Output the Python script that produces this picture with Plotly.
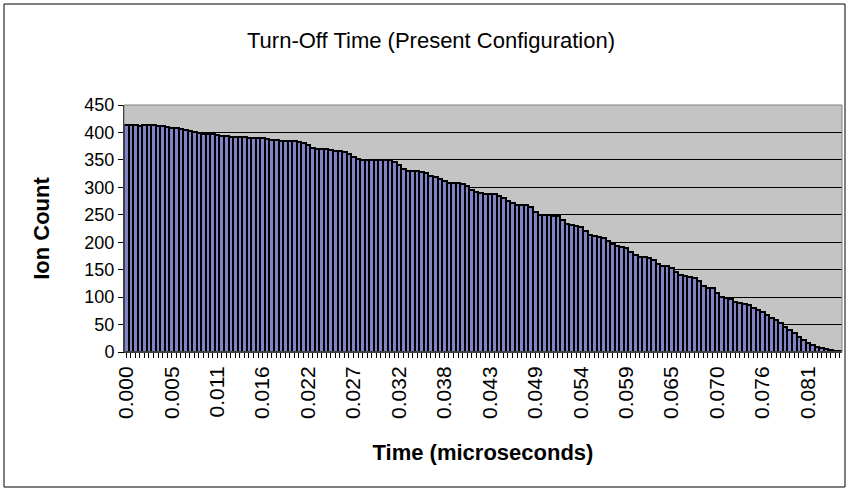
import plotly.graph_objects as go

# Ion counts per time bin
counts = [
    413, 413, 413, 412, 413, 414, 413, 411, 411, 410,
    409, 408, 407, 405, 402, 401, 399, 398, 398, 397,
    395, 394, 393, 392, 392, 391, 392, 390, 390, 389,
    389, 388, 387, 386, 385, 385, 384, 384, 383, 381,
    378, 372, 370, 369, 369, 368, 367, 366, 365, 361,
    356, 351, 350, 350, 350, 349, 349, 350, 349, 347,
    340, 334, 330, 329, 330, 328, 327, 321, 318, 316,
    311, 307, 307, 308, 306, 302, 296, 291, 289, 288,
    288, 287, 284, 280, 276, 271, 268, 267, 268, 265,
    255, 250, 249, 249, 248, 247, 240, 234, 231, 230,
    228, 220, 214, 211, 209, 207, 203, 197, 193, 191,
    190, 183, 176, 173, 173, 172, 168, 160, 157, 157,
    153, 146, 140, 138, 137, 135, 130, 121, 117, 116,
    108, 101, 98, 96, 92, 90, 88, 85, 80, 76,
    73, 68, 62, 58, 53, 45, 40, 35, 28, 22,
    17, 12, 9, 7, 5, 3, 2, 1,
]
time_step = 0.00054  # microseconds per bin
label_every = 10
times = [i * time_step for i in range(len(counts))]
tick_labels = ["%.3f" % t if i % label_every == 0 else "" for i, t in enumerate(times)]
positions = list(range(len(counts)))

W, H = 849, 491
L, R, T, B = 124, 7, 105, 139
pw, ph = W - L - R, H - T - B

fig = go.Figure(go.Bar(
    x=positions, y=counts,
    marker=dict(color="#8282C6", line=dict(color="black", width=2)),
    hovertext=["%.5f" % t for t in times],
))

font = "Liberation Sans, Arial, sans-serif"
fig.update_layout(
    width=W, height=H,
    margin=dict(l=L, r=R, t=T, b=B),
    paper_bgcolor="white", plot_bgcolor="#C4C4C4",
    bargap=0,
    showlegend=False,
    font=dict(family=font, color="black", size=14),
    title=dict(text="Turn-Off Time (Present Configuration)", x=431 / W, xanchor="center",
               y=1 - 40 / H, yanchor="middle", font=dict(size=22, family=font)),
    xaxis=dict(
        range=[-0.5, len(counts) - 0.5],
        tickmode="array", tickvals=positions, ticktext=tick_labels,
        tickangle=-90, ticks="outside", ticklen=5, tickcolor="black",
        showline=True, linecolor="black", linewidth=1,
        showgrid=False, zeroline=False,
        tickfont=dict(size=21, family=font),
        title=dict(text="<b>Time (microseconds)</b>", font=dict(size=22, family=font), standoff=26),
    ),
    yaxis=dict(
        range=[0, 450], dtick=50,
        ticks="outside", ticklen=5, tickcolor="black",
        showline=True, linecolor="black", linewidth=1,
        showgrid=True, gridcolor="black", gridwidth=1,
        zeroline=False,
        tickfont=dict(size=18, family=font),
        title=dict(text="<b>Ion Count</b>", font=dict(size=22, family=font), standoff=28),
    ),
    shapes=[
        dict(type="rect", xref="paper", yref="paper",
             x0=(4 - L) / pw, x1=(845 - L) / pw,
             y0=-(487 - (T + ph)) / ph, y1=1 + (T - 4) / ph,
             line=dict(color="black", width=1), fillcolor="rgba(0,0,0,0)", layer="below"),
        dict(type="rect", xref="paper", yref="paper", x0=0, x1=1, y0=0, y1=1,
             line=dict(color="#808080", width=1), fillcolor="rgba(0,0,0,0)"),
    ],
)

fig.write_html("out.html")
